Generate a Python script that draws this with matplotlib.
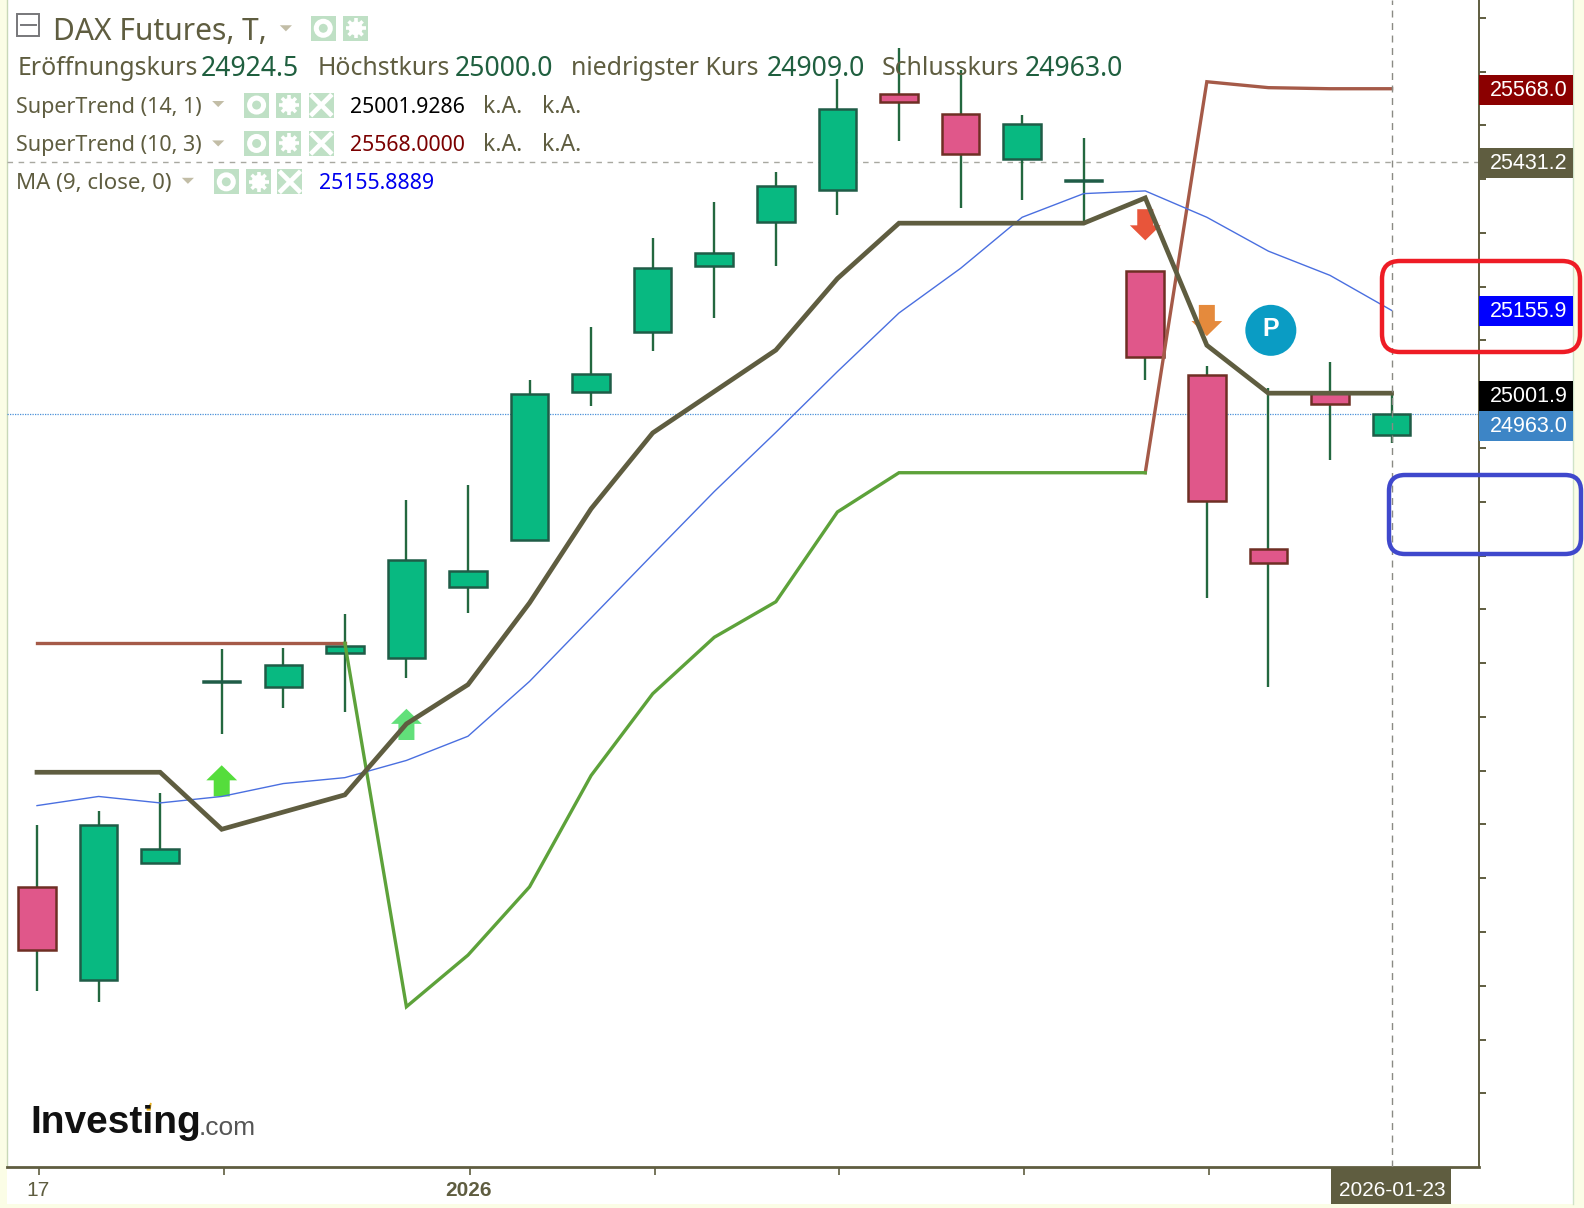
import matplotlib
matplotlib.use("Agg")
import matplotlib.pyplot as plt
from matplotlib.patches import Rectangle, Polygon, Circle, FancyBboxPatch

W, H = 1584, 1208
S = 1584 / 1568

opens  = [24084,23910,24128,24465,24456,24518,24509,24642,24729,25005,25115,25239,25320,25380,25559,25521,25437,25396,25230,25035,24712,25003,24924.5]
highs  = [24199,24225,24259,24526,24528,24591,24804,24832,25027,25125,25290,25358,25414,25587,25643,25602,25519,25476,25230,25053,25012,25059,25000]
lows   = [23891,23870,24128,24368,24417,24409,24473,24593,24729,24978,25080,25142,25239,25333,25470,25346,25361,25322,25027,24621,24456,24877,24909]
closes = [23966,24199,24154,24467,24496,24531,24691,24672,25001,25038,25234,25262,25388,25530,25544,25446,25502,25398,25070,24802,24687,24982,24963]

st14 = [24297,24297,24297,24191,24223,24255,24387,24460,24612,24787,24928,25005,25082,25215,25318,25318,25318,25318,25365,25091,25001.9,25001.9,25001.9]
st10_up_x = [5,6,7,8,9,10,11,12,13,14,15,16,17,18]
st10_up   = [24537,23861,23957,24084,24291,24443,24548,24614,24781,24854,24854,24854,24854,24854]
st10_dn1_x = [0,1,2,3,4,5]
st10_dn1   = [24537,24537,24537,24537,24537,24537]
st10_dn2_x = [18,19,20,21,22]
st10_dn2   = [24854,25581,25570,25568,25568]
ma9 = [24235,24252,24240,24252,24276,24287,24319,24364,24466,24584,24702,24819,24929,25042,25151,25234,25329,25373,25378,25329,25266,25221,25155.9]

price_labels = ["25568.0","25431.2","25155.9","25001.9","24963.0"]
price_bg     = ["#8b0000","#5f5d40","#0000ff","#000000","#3d85c6"]
y_ticks = list(range(23700, 25800, 100))
x_tick_idx = [0,3,7,10,13,16,19]
x_tick_labels = ["17","","2026","","","",""]
last_date = "2026-01-23"
hline_price = 25431.2

AX_L, AX_R, AX_B = 7, 1479, 1167
X0, DX = 37.0, 61.57
YTOP, YBOT = 25733.0, 23563.0

fig = plt.figure(figsize=(W/100, H/100), dpi=100, facecolor="#fbfde6")
bg = fig.add_axes([0,0,1,1], zorder=0); bg.set_xlim(0,W); bg.set_ylim(H,0); bg.axis("off")
bg.add_patch(Rectangle((7,0),1566,1204,fc="white",ec="none"))
bg.plot([1573,1573],[0,1204],color="#cfe3c8",lw=1)
bg.plot([7,7],[0,1167],color="#c8d8b8",lw=1)

ax = fig.add_axes([AX_L/W, 1-AX_B/H, (AX_R-AX_L)/W, AX_B/H], zorder=1, facecolor="none")
ax.set_xlim((AX_L-X0)/DX, (AX_R-X0)/DX)
ax.set_ylim(YBOT, YTOP)
for s in ["top","left"]:
    ax.spines[s].set_visible(False)
ax.spines["right"].set_color("#5f5d40"); ax.spines["right"].set_linewidth(1.4)
ax.spines["bottom"].set_color("#5f5d40"); ax.spines["bottom"].set_linewidth(2)
ax.yaxis.tick_right()
ax.set_yticks(y_ticks); ax.set_yticklabels([])
ax.tick_params(axis="y", length=5, width=1.4, color="#5f5d40")
ax.set_xticks([i+0.03 for i in x_tick_idx]); ax.set_xticklabels([])
ax.tick_params(axis="x", length=6, width=1.2, color="#5f5d40")

ax.axhline(hline_price, color="#a8a8a0", lw=1, ls=(0,(4,4)))
ax.axhline(closes[-1], color="#4a90d9", lw=0.9, ls=(0,(1,1)))
ax.axvline(22, color="#8a8a84", lw=1, ls=(0,(5,4)), zorder=9)

GREEN, GREEN_E, RED, RED_E = "#08b981", "#1f5c47", "#e0578a", "#6e2f24"
for i,(o,h,l,c) in enumerate(zip(opens,highs,lows,closes)):
    up = c >= o
    ax.vlines(i, l, h, color="#23683f", lw=1.7, zorder=3)
    ax.bar(i, abs(c-o), bottom=min(o,c), width=0.61, color=GREEN if up else RED,
           edgecolor=GREEN_E if up else RED_E, lw=1.8, zorder=4)

def arrow(i, tip, up, col):
    sgn = 1 if up else -1
    hw, sw, hh, L = 0.25, 0.13, 28, 58
    pts = [(i,tip),(i+hw,tip-sgn*hh),(i+sw,tip-sgn*hh),(i+sw,tip-sgn*L),(i-sw,tip-sgn*L),(i-sw,tip-sgn*hh),(i-hw,tip-sgn*hh)]
    ax.add_patch(Polygon(pts, closed=True, fc=col, ec="none", zorder=4.5))
arrow(3, 24310, True, "#55dd3c")
arrow(6, 24415, True, "#62e07a")
arrow(18, 25286, False, "#e8553a")
arrow(19, 25108, False, "#e58a3c")

ax.plot(st10_dn1_x, st10_dn1, color="#a55a48", lw=2.4, zorder=5, solid_joinstyle="miter")
ax.plot(st10_dn2_x, st10_dn2, color="#a55a48", lw=2.4, zorder=5, solid_joinstyle="miter")
ax.plot(st10_up_x, st10_up, color="#5da23a", lw=2.4, zorder=5, solid_joinstyle="miter")
ax.plot(range(23), ma9, color="#4a6fe0", lw=1.0, zorder=6)
ax.plot(range(23), st14, color="#5f5d40", lw=3.4, zorder=7, solid_joinstyle="miter")

ov = fig.add_axes([0,0,1,1], zorder=5, facecolor="none")
ov.set_xlim(0,W); ov.set_ylim(H,0); ov.axis("off")
LBL = "#5f5d40"; DG = "#1f5f3f"
FF = ["Noto Sans","DejaVu Sans"]
def T(x,y,s,size,c=LBL,**k):
    ov.text(x*S,y*S,s,fontsize=size,color=c,va="center",ha="left",family=FF,**k)

for s,bgc,yc in zip(price_labels,price_bg,[89,161,308,392,422]):
    ov.add_patch(Rectangle((1479,yc*S-15),94,30,fc=bgc,ec="none"))
    ov.text(1529,yc*S+0.5,s,color="white",fontsize=15.5,family="Liberation Sans",ha="center",va="center")

for i,s in zip(x_tick_idx,x_tick_labels):
    if s:
        ov.text(X0+DX*i+1,1190,s,color=LBL,fontsize=15,family="Liberation Sans",ha="center",va="center",
                fontweight="bold" if s=="2026" else "normal")
ov.add_patch(Rectangle((1331,1168),120,36,fc=LBL,ec="none"))
ov.text(1392,1190,last_date,color="white",fontsize=15,family="Liberation Sans",ha="center",va="center")

ov.add_patch(FancyBboxPatch((1382,261),198,91,boxstyle="round,pad=0,rounding_size=18",fc="none",ec="#ee1c25",lw=3.2))
ov.add_patch(FancyBboxPatch((1389,475),192,79,boxstyle="round,pad=0,rounding_size=16",fc="none",ec="#3f48cc",lw=3.2))

ov.add_patch(Circle((1258*S,327*S),25.5,fc="#0a9cc4",ec="none"))
ov.text(1258*S,326*S,"P",color="white",fontsize=18,fontweight="bold",family="Liberation Sans",ha="center",va="center")

ov.add_patch(Rectangle((17*S,14*S),22,22,fc="none",ec="#77777a",lw=1.4))
ov.plot([21*S,36*S],[25*S,25*S],color="#77777a",lw=1.4)
T(52,32,"DAX Futures, T,",21.6)
y=68
for x,s,c,fs in [(17,"Eröffnungskurs",LBL,17.9),(199,"24924.5",DG,19.2),(314,"Höchstkurs",LBL,17.9),(450,"25000.0",DG,19.2),
              (565,"niedrigster Kurs",LBL,17.9),(759,"24909.0",DG,19.2),(873,"Schlusskurs",LBL,17.9),(1014,"24963.0",DG,19.2)]:
    T(x,y,s,fs,c)
for yy,s,val,c in [(106,"SuperTrend (14, 1)","25001.9286","#000000"),(144,"SuperTrend (10, 3)","25568.0000","#7b0000")]:
    T(16,yy,s,15.5)
    T(346,yy,val,15.3,c)
    T(478,yy,"k.A.",16.5); T(537,yy,"k.A.",16.5)
T(16,182,"MA (9, close, 0)",16)
T(316,182,"25155.8889",15.3,"#0000ee")

def tri(x,y):
    ov.add_patch(Polygon([((x-6)*S,(y-3)*S),((x+6)*S,(y-3)*S),(x*S,(y+3)*S)],fc="#c2bda6",ec="none"))
for x,yy in [(283,28),(216,103),(216,142),(186,179)]:
    tri(x,yy)
ICON = "#bfe0c5"
def icon(x,y,kind):
    s=25
    ov.add_patch(Rectangle((x*S-s/2,y*S-s/2),s,s,fc=ICON,ec="none"))
    if kind=="eye":
        ov.add_patch(Circle((x*S,y*S),7,fc="none",ec="white",lw=3.6))
    elif kind=="gear":
        ov.add_patch(Circle((x*S,y*S),7,fc="white",ec="none"))
        for dx,dy in [(10,0),(0,10),(7,7),(7,-7)]:
            ov.plot([x*S-dx,x*S+dx],[y*S-dy,y*S+dy],color="white",lw=2.6,solid_capstyle="butt")
        ov.add_patch(Circle((x*S,y*S),3,fc=ICON,ec="none"))
    else:
        ov.plot([x*S-9,x*S+9],[y*S-9,y*S+9],color="white",lw=3.4)
        ov.plot([x*S-9,x*S+9],[y*S+9,y*S-9],color="white",lw=3.4)
for x,k in [(320,"eye"),(352,"gear")]: icon(x,28,k)
for yy in (104,142):
    for x,k in [(254,"eye"),(286,"gear"),(318,"x")]: icon(x,yy,k)
for x,k in [(224,"eye"),(256,"gear"),(287,"x")]: icon(x,180,k)

ov.text(30,1123,"Investing",color="#111111",fontsize=28,fontweight="bold",family="Liberation Sans",va="center",ha="left")
ov.text(199,1128,".com",color="#555555",fontsize=19,family="Liberation Sans",va="center",ha="left")
ov.add_patch(Polygon([(147,1110),(151,1103),(150,1110)],fc="#e8b020",ec="#e8b020",lw=1))

fig.savefig("out.png",dpi=100,facecolor=fig.get_facecolor())
